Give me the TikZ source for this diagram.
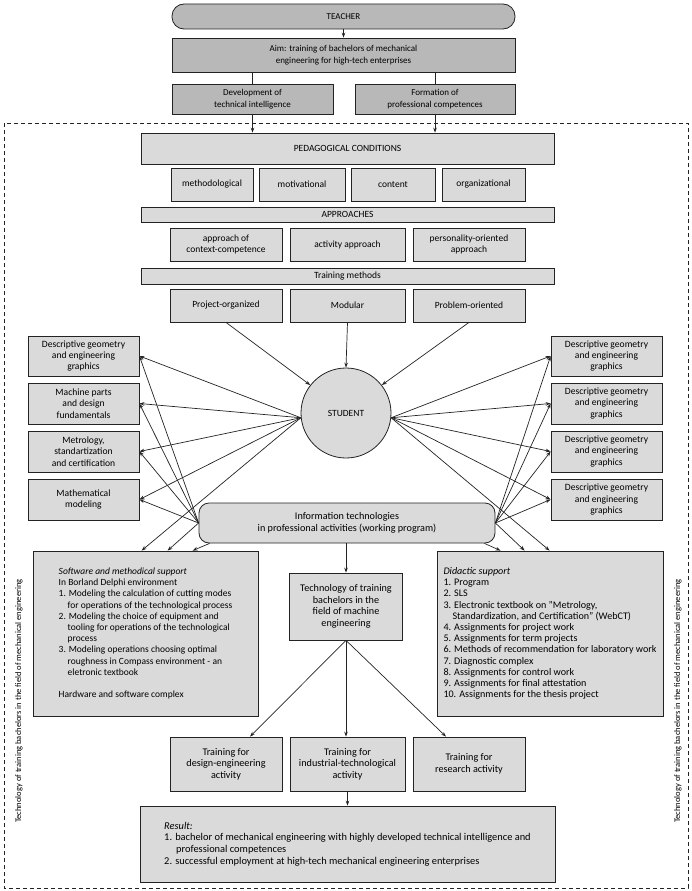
\documentclass[tikz,border=0pt]{standalone}
\usepackage{fontspec}
\setmainfont{Carlito}
\usetikzlibrary{arrows.meta}
\definecolor{lite}{RGB}{218,218,218}
\definecolor{darkbox}{RGB}{184,184,184}
\definecolor{inkc}{RGB}{35,35,35}
\newcommand\myhang{\hspace*{9pt}}
\begin{document}
\begin{tikzpicture}[x=1pt,y=-1pt,
  bx/.style={draw=inkc, line width=0.8pt, fill=lite, inner sep=1pt, align=center, font=\fontsize{9.5}{11.2}\selectfont},
  dbx/.style={bx, fill=darkbox, font=\fontsize{9}{11.5}\selectfont},
  sidebox/.style={bx, font=\fontsize{9.6}{11.3}\selectfont},
  bigfont/.style={font=\fontsize{10.2}{11.6}\selectfont},
  arr/.style={draw=inkc, line width=0.7pt, -{Stealth[length=5pt,width=3.6pt]}},
  plainline/.style={draw=inkc, line width=0.7pt},
  sidetext/.style={rotate=90, font=\fontsize{8.5}{11}\selectfont, inner sep=0pt}
]
\useasboundingbox (0,0) rectangle (692,891);

% top part
\node[dbx, rounded corners=12pt, minimum width=343pt, minimum height=25pt] (teacher) at (343.5,16.5) {TEACHER};
\node[dbx, minimum width=343pt, minimum height=34pt] (aim) at (343.5,55) {Aim: training of bachelors of mechanical\\engineering for high-tech enterprises};
\node[dbx, minimum width=161pt, minimum height=30pt] (dev) at (252.5,99) {Development of\\technical intelligence};
\node[dbx, minimum width=160pt, minimum height=30pt] (form) at (435,99) {Formation of\\professional competences};

\draw[draw=inkc, line width=0.6pt, dash pattern=on 4pt off 3pt] (4,123) rectangle (688,888);

\node[bx, minimum width=413pt, minimum height=31pt] (pc) at (347.5,148.5) {PEDAGOGICAL CONDITIONS};
\node[bx, minimum width=82pt, minimum height=33pt] (c1) at (212,184.5) {methodological};
\node[bx, minimum width=86pt, minimum height=33pt] (c2) at (302,184.5) {motivational};
\node[bx, minimum width=84pt, minimum height=33pt] (c3) at (393,184.5) {content};
\node[bx, minimum width=83pt, minimum height=33pt] (c4) at (483.5,184.5) {organizational};

\node[bx, minimum width=413pt, minimum height=15pt] (appr) at (347.5,214.5) {APPROACHES};
\node[bx, minimum width=112pt, minimum height=33pt] (a1) at (226,244.5) {approach of\\context-competence};
\node[bx, minimum width=115pt, minimum height=33pt] (a2) at (347.5,244.5) {activity approach};
\node[bx, minimum width=112pt, minimum height=33pt] (a3) at (469,244.5) {personality-oriented\\approach};

\node[bx, minimum width=413pt, minimum height=16pt] (tm) at (347.5,276) {Training methods};
\node[bx, minimum width=112pt, minimum height=33pt] (m1) at (226,305.5) {Project-organized};
\node[bx, minimum width=115pt, minimum height=33pt] (m2) at (347.5,305.5) {Modular};
\node[bx, minimum width=112pt, minimum height=33pt] (m3) at (469,305.5) {Problem-oriented};

% student
\node[bx, circle, minimum size=90pt, inner sep=0pt] (stu) at (346,413) {STUDENT};

% left boxes
\node[sidebox, minimum width=111pt, minimum height=40pt] (l1) at (83.5,356) {Descriptive geometry\\and engineering\\graphics};
\node[sidebox, minimum width=111pt, minimum height=41pt] (l2) at (83.5,403.5) {Machine parts\\and design\\fundamentals};
\node[sidebox, minimum width=111pt, minimum height=41pt] (l3) at (83.5,451.5) {Metrology,\\standartization\\and certification};
\node[sidebox, minimum width=111pt, minimum height=41pt] (l4) at (83.5,499.5) {Mathematical\\modeling};

% right boxes
\node[sidebox, minimum width=111pt, minimum height=40pt] (r1) at (606.5,356) {Descriptive geometry\\and engineering\\graphics};
\node[sidebox, minimum width=111pt, minimum height=41pt] (r2) at (606.5,403.5) {Descriptive geometry\\and engineering\\graphics};
\node[sidebox, minimum width=111pt, minimum height=41pt] (r3) at (606.5,451.5) {Descriptive geometry\\and engineering\\graphics};
\node[sidebox, minimum width=111pt, minimum height=41pt] (r4) at (606.5,499.5) {Descriptive geometry\\and engineering\\graphics};

% information technologies
\node[bx, bigfont, rounded corners=10pt, minimum width=296pt, minimum height=40pt] (it) at (347,523) {Information technologies\\in professional activities (working program)};

% software / didactic
\node[bx, minimum width=225pt, minimum height=165pt, align=left] (sms) at (145.5,633.5) {\textit{Software and methodical support}\\
In Borland Delphi environment\\
1. Modeling the calculation of cutting modes\\
\myhang for operations of the technological process\\
2. Modeling the choice of equipment and\\
\myhang tooling for operations of the technological\\
\myhang process\\
3. Modeling operations choosing optimal\\
\myhang roughness in Compass environment - an\\
\myhang eletronic textbook\\[11.2pt]
Hardware and software complex};

\node[bx, bigfont, minimum width=113pt, minimum height=67pt] (tech) at (346,606.5) {Technology of training\\bachelors in the\\field of machine\\engineering};

\node[bx, font=\fontsize{10.1}{11.2}\selectfont, minimum width=226pt, minimum height=165pt, align=left] (did) at (550,633.5) {\textit{Didactic support}\\
1. Program\\
2. SLS\\
3. Electronic textbook on "Metrology,\\
\myhang Standardization, and Certification" (WebCT)\\
4. Assignments for project work\\
5. Assignments for term projects\\
6. Methods of recommendation for laboratory work\\
7. Diagnostic complex\\
8. Assignments for control work\\
9. Assignments for final attestation\\
10. Assignments for the thesis project};

% training boxes
\node[bx, bigfont, minimum width=112pt, minimum height=54pt] (t1) at (226,764) {Training for\\design-engineering\\activity};
\node[bx, bigfont, minimum width=115pt, minimum height=54pt] (t2) at (347.5,764) {Training for\\industrial-technological\\activity};
\node[bx, bigfont, minimum width=112pt, minimum height=54pt] (t3) at (469,764) {Training for\\research activity};

\node[bx, font=\fontsize{10.4}{11.7}\selectfont, minimum width=415pt, minimum height=76pt, align=left] (res) at (347.5,844) {\textit{Result:}\\
1. bachelor of mechanical engineering with highly developed technical intelligence and\\
\hspace*{12pt}professional competences\\
2. successful employment at high-tech mechanical engineering enterprises};

% side texts
\node[sidetext] (sidel) at (19,701) {Technology of training bachelors in the field of mechanical engineering};
\node[sidetext] (sider) at (678,701) {Technology of training bachelors in the field of mechanical engineering};

% connectors top
\draw[arr] (teacher.south) -- (aim.north);
\draw[plainline] (dev.north |- aim.south) -- (dev.north);
\draw[plainline] (form.north |- aim.south) -- (form.north);
\draw[arr] (dev.south) -- (dev.south |- pc.north);
\draw[arr] (form.south) -- (form.south |- pc.north);

% methods to student
\draw[arr] (m1.south) -- (stu.142);
\draw[arr] (m2.south) -- (stu.north);
\draw[arr] (m3.south) -- (stu.38);

% student and IT fans
\coordinate (sl) at (stu.186);
\coordinate (sr) at (stu.-6);
\foreach \b in {l1,l2,l3,l4} {
  \draw[arr] (sl) -- (\b.east);
  \draw[arr] (it.west) -- (\b.east);
}
\foreach \b in {r1,r2,r3,r4} {
  \draw[arr] (sr) -- (\b.west);
  \draw[arr] (it.east) -- (\b.west);
}
\draw[arr] (sl) -- ([xshift=109pt]sms.north west);
\draw[arr] (it.west) -- ([xshift=135pt]sms.north west);
\draw[arr] ([xshift=11pt]it.south west) -- ([xshift=160pt]sms.north west);
\draw[arr] (sr) -- ([xshift=113pt]did.north west);
\draw[arr] (it.east) -- ([xshift=88pt]did.north west);
\draw[arr] ([xshift=-11pt]it.south east) -- ([xshift=64pt]did.north west);

% IT to technology, technology to trainings
\draw[arr] (it.south -| tech.north) -- (tech.north);
\draw[arr] (tech.south) -- ([xshift=24pt]t1.north);
\draw[arr] (tech.south) -- (tech.south |- t2.north);
\draw[arr] (tech.south) -- ([xshift=-23pt]t3.north);
\draw[arr] (t2.south) -- (t2.south |- res.north);
\end{tikzpicture}
\end{document}
